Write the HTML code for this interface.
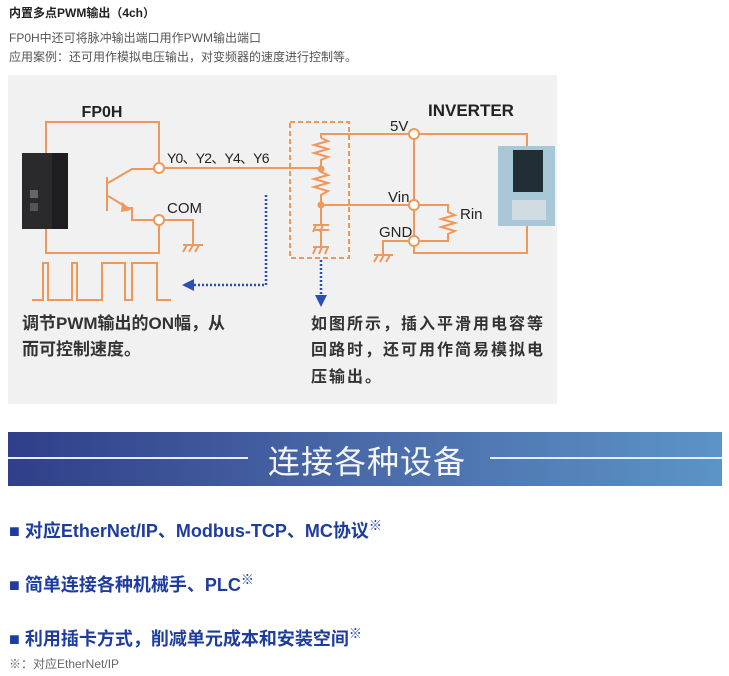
<!DOCTYPE html>
<html><head><meta charset="utf-8"><style>
body{margin:0;background:#fff;width:729px;height:676px;overflow:hidden;font-family:"Liberation Sans","Noto Sans CJK SC",sans-serif;position:relative}
.t{position:absolute;white-space:nowrap}
.b{color:#1d3c9e;font-weight:bold;font-size:18px}
</style></head><body>
<div class="t" style="left:9px;top:4px;font-size:12px;font-weight:bold;color:#222">内置多点PWM输出（4ch）</div>
<div class="t" style="left:9px;top:29px;font-size:12px;color:#555">FP0H中还可将脉冲输出端口用作PWM输出端口</div>
<div class="t" style="left:9px;top:48px;font-size:12px;color:#555">应用案例：还可用作模拟电压输出，对变频器的速度进行控制等。</div>

<svg style="position:absolute;left:0;top:0" width="729" height="420" xmlns="http://www.w3.org/2000/svg">
<rect x="8" y="75" width="549" height="329" fill="#f1f1f1"/>
<g stroke="#f0985a" stroke-width="2" fill="none">
<polyline points="159,168 159,122 46,122 46,253 159,253 159,220"/>
<line x1="107" y1="177" x2="107" y2="211"/>
<polyline points="108,183 132,169 159,169"/>
<polyline points="108,196 128,208 132,208 132,220 159,220"/>
<polyline points="159,220 193,220 193,245"/>
<line x1="165" y1="168" x2="321" y2="168"/>
<rect x="290" y="122" width="59" height="136" stroke-dasharray="5,3"/>
<polyline points="414,134 321,134 321,138"/>
<polyline points="321,138 328,141 314,145 328,149 314,153 328,157 321,160 321,172 328,175 314,179 328,183 314,187 328,191 321,195 321,225"/>
<line x1="321" y1="205" x2="408" y2="205"/>
<line x1="313" y1="225" x2="329" y2="225"/><line x1="313" y1="230" x2="329" y2="230"/>
<line x1="321" y1="230" x2="321" y2="247"/>
<line x1="313" y1="247" x2="329" y2="247"/>
<line x1="316" y1="247" x2="313" y2="254"/><line x1="322" y1="247" x2="319" y2="254"/><line x1="328" y1="247" x2="325" y2="254"/>
<line x1="316" y1="225" x2="313" y2="232"/><line x1="323" y1="225" x2="320" y2="232"/>
<polyline points="420,134 527,134 527,253 414,253 414,134"/>
<polyline points="420,205 448,205 448,212 455,215 441,219 455,223 441,227 455,231 448,234 448,241 420,241"/>
<polyline points="408,241 383,241 383,255"/>
<line x1="183" y1="245" x2="203" y2="245"/><line x1="187" y1="245" x2="183" y2="252"/><line x1="193" y1="245" x2="189" y2="252"/><line x1="199" y1="245" x2="195" y2="252"/>
<line x1="374" y1="255" x2="393" y2="255"/><line x1="378" y1="255" x2="374" y2="262"/><line x1="384" y1="255" x2="380" y2="262"/><line x1="390" y1="255" x2="386" y2="262"/>
<polyline points="32,300 43,300 43,263 48,263 48,300 72,300 72,263 77,263 77,300 102,300 102,263 125,263 125,300 132,300 132,263 157,263 157,300 171,300"/>
</g>
<g fill="#fff" stroke="#f0985a" stroke-width="2">
<circle cx="159" cy="168" r="5"/><circle cx="159" cy="220" r="5"/>
<circle cx="414" cy="134" r="5"/><circle cx="414" cy="205" r="5"/><circle cx="414" cy="241" r="5"/>
</g>
<polygon points="122,202 131,210 121,212" fill="#f0985a"/>
<circle cx="321" cy="169" r="3.5" fill="#f0985a"/><circle cx="321" cy="205" r="3.5" fill="#f0985a"/>
<g stroke="#2c4fb0" stroke-width="2.5" stroke-dasharray="2,2" fill="none">
<polyline points="266,195 266,285 192,285"/>
<line x1="321" y1="260" x2="321" y2="296"/>
</g>
<polygon points="182,285 194,279 194,291" fill="#2c4fb0"/>
<polygon points="315,295 327,295 321,307" fill="#2c4fb0"/>
<rect x="22" y="153" width="46" height="76" fill="#1e1e20"/>
<rect x="22" y="153" width="30" height="76" fill="#2a2a2c"/>
<rect x="30" y="190" width="8" height="8" fill="#666"/><rect x="30" y="203" width="8" height="8" fill="#555"/>
<rect x="498" y="146" width="57" height="80" fill="#a8c8d8"/>
<rect x="513" y="150" width="30" height="42" fill="#1f2f35"/>
<rect x="512" y="200" width="34" height="20" fill="#d0dbe2"/>
<g font-family="Liberation Sans,sans-serif" fill="#222" font-size="15">
<text x="102" y="117" text-anchor="middle" font-weight="bold" font-size="16">FP0H</text>
<text x="167" y="163" font-size="14" letter-spacing="-0.8">Y0、Y2、Y4、Y6</text>
<text x="167" y="213">COM</text>
<text x="428" y="116" font-weight="bold" font-size="17">INVERTER</text>
<text x="390" y="131">5V</text>
<text x="388" y="202">Vin</text>
<text x="379" y="237">GND</text>
<text x="460" y="219">Rin</text>
</g>
<g font-family="Liberation Sans,Noto Sans CJK SC,sans-serif" fill="#333" font-size="17" font-weight="bold">
<text x="22" y="329">调节PWM输出的ON幅，从</text>
<text x="22" y="355">而可控制速度。</text>
<text x="311" y="329" font-size="16" letter-spacing="2">如图所示，插入平滑用电容等</text>
<text x="311" y="355" font-size="16" letter-spacing="2">回路时，还可用作简易模拟电</text>
<text x="311" y="382" font-size="16" letter-spacing="2">压输出。</text>
</g>
</svg>

<div style="position:absolute;left:8px;top:432px;width:714px;height:54px;background:linear-gradient(90deg,#2f3f89,#4a6aa8 50%,#5b94c6)"></div>
<div style="position:absolute;left:8px;top:457px;width:240px;height:2px;background:#e8eef8"></div>
<div style="position:absolute;left:490px;top:457px;width:232px;height:2px;background:#e8eef8"></div>
<div class="t" style="left:268px;top:437px;font-size:32px;color:#f4f6fb;font-family:'Noto Sans CJK SC',sans-serif;letter-spacing:1px">连接各种设备</div>

<div class="t b" style="left:9px;top:515px">■ 对应EtherNet/IP、Modbus-TCP、MC协议<sup style="font-size:13px">※</sup></div>
<div class="t b" style="left:9px;top:569px">■ 简单连接各种机械手、PLC<sup style="font-size:13px">※</sup></div>
<div class="t b" style="left:9px;top:623px">■ 利用插卡方式，削减单元成本和安装空间<sup style="font-size:13px">※</sup></div>
<div class="t" style="left:9px;top:655px;font-size:12px;color:#666">※：对应EtherNet/IP</div>
</body></html>
